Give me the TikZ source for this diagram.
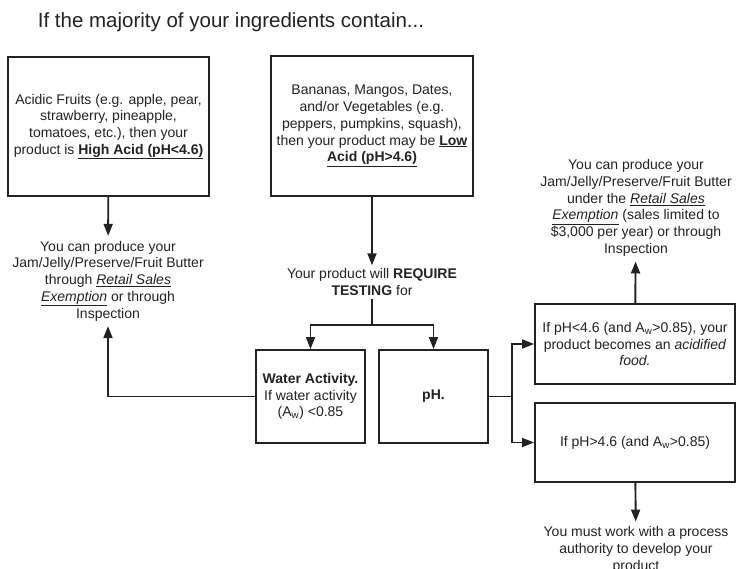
\documentclass[tikz,border=0pt]{standalone}
\usepackage{fontspec}
\setmainfont{Liberation Sans}
\usepackage{xcolor}
\usepackage{tikz}
\usetikzlibrary{arrows.meta, positioning, calc}
\definecolor{inkcolor}{RGB}{34,34,34}
\definecolor{boxcolor}{RGB}{255,255,255}

\begin{document}
\begin{tikzpicture}[
    x=1pt, y=-1pt,
    every node/.style={text=inkcolor},
    stepbox/.style={draw=inkcolor, line width=1.9pt, fill=boxcolor, align=center, inner sep=4pt, font=\fontsize{14}{16.7}\selectfont},
    note/.style={align=center, inner sep=5pt, font=\fontsize{14}{16.7}\selectfont},
    flow/.style={draw=inkcolor, line width=1.9pt, -{Triangle[length=12pt,width=9pt]}},
    link/.style={draw=inkcolor, line width=1.9pt}
]
    \useasboundingbox (0,0) rectangle (736,569);

    % Title
    \node[font=\fontsize{20.5}{24}\selectfont] (title) at (231,22) {If the majority of your ingredients contain...};

    % Ingredients
    \node[stepbox, minimum width=201pt, minimum height=139pt] (acid) at (108.5,126.5)
        {Acidic Fruits (e.g. apple, pear,\\ strawberry, pineapple,\\ tomatoes, etc.), then your\\ product is \underline{\textbf{High Acid (pH<4.6)}}};
    \node[stepbox, minimum width=202pt, minimum height=140pt] (lowacid) at (372,126)
        {Bananas, Mangos, Dates,\\ and/or Vegetables (e.g.\\ peppers, pumpkins, squash),\\ then your product may be \underline{\textbf{Low}}\\ \underline{\textbf{Acid (pH>4.6)}}};

    % Outcomes and testing
    \node[note] (exempt) at (108,281)
        {You can produce your\\ Jam/Jelly/Preserve/Fruit Butter\\ through \underline{\textit{Retail Sales}}\\ \underline{\textit{Exemption}} or through\\ Inspection};
    \node[note, inner sep=3pt] (testing) at (372,282)
        {Your product will \textbf{REQUIRE}\\ \textbf{TESTING} for};
    \coordinate (split) at (372,325);

    \node[stepbox, minimum width=109pt, minimum height=93pt] (water) at (310.5,396.5)
        {\textbf{Water Activity.}\\ If water activity\\ (A\textsubscript{w}) <0.85};
    \node[stepbox, minimum width=109pt, minimum height=93pt] (ph) at (433.5,396.5)
        {\textbf{pH.}};
    \coordinate (fork) at (512,396.5);

    % pH results
    \node[stepbox, minimum width=200pt, minimum height=80pt] (acidified) at (635,344)
        {If pH<4.6 (and A\textsubscript{w}>0.85), your\\ product becomes an \textit{acidified}\\ \textit{food.}};
    \node[stepbox, minimum width=200pt, minimum height=79pt] (highph) at (635,442.5)
        {If pH>4.6 (and A\textsubscript{w}>0.85)};
    \node[note] (retail) at (636,208)
        {You can produce your\\ Jam/Jelly/Preserve/Fruit Butter\\ under the \underline{\textit{Retail Sales}}\\ \underline{\textit{Exemption}} (sales limited to\\ \$3,000 per year) or through\\ Inspection};
    \node[note] (process) at (636,550)
        {You must work with a process\\ authority to develop your\\ product};

    % Connectors
    \draw[flow] (acid) -- (exempt);
    \draw[flow] (lowacid) -- (testing);
    \draw[link] (testing) -- (split);
    \draw[flow] (split) -| (water);
    \draw[flow] (split) -| (ph);
    \draw[flow] (water.west) -| (exempt.south);
    \draw[link] (ph.east) -- (fork);
    \draw[flow] (fork) |- (acidified.west);
    \draw[flow] (fork) |- (highph.west);
    \draw[flow] (acidified) -- (retail);
    \draw[flow] (highph) -- (process);
\end{tikzpicture}
\end{document}
